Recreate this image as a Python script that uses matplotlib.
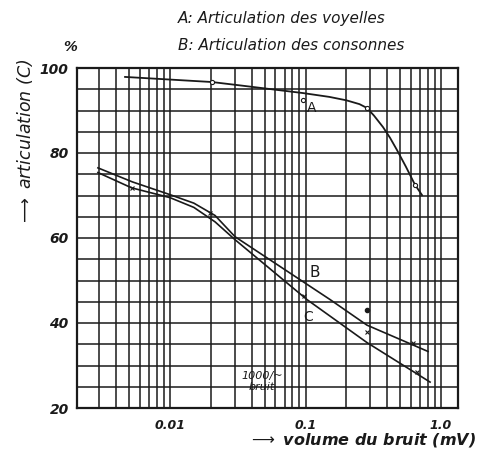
import numpy as np
import matplotlib.pyplot as plt
from matplotlib.ticker import FixedLocator, LogLocator, NullFormatter

#-------------------------------------------------------------------------------
#DATA

# curve A : articulation des voyelles
a_x = [0.00466, 0.0204, 0.033, 0.0959, 0.15, 0.20, 0.25, 0.284, 0.32, 0.373, 0.42, 0.473, 0.55, 0.643, 0.724]
a_y = [97.9, 96.7, 95.9, 94.1, 93.2, 92.4, 91.5, 90.6, 88.8, 86.1, 83.6, 80.7, 76.8, 72.5, 70.1]
a_mx = [0.0204, 0.0959, 0.284, 0.643]
a_my = [96.7, 92.5, 90.6, 72.5]

# curve B : articulation des consonnes
b_x = [0.00294, 0.00528, 0.01, 0.015, 0.0215, 0.0302, 0.152, 0.284, 0.802]
b_y = [76.5, 73.2, 70.2, 68.2, 65.3, 60.3, 45.5, 39.5, 33.3]

# curve C
c_x = [0.00294, 0.00521, 0.01, 0.015, 0.0215, 0.0302, 0.1026, 0.284, 0.83]
c_y = [75.4, 71.8, 69.5, 67.2, 63.8, 59.6, 45.5, 35.4, 26.1]

# measured points (x marks and dot)
p_x = [0.00521, 0.0197, 0.098, 0.284, 0.62, 0.66]
p_y = [71.8, 66.0, 46.3, 37.8, 35.4, 28.4]
dot_x = [0.284]
dot_y = [43.0]

xticks = [0.01, 0.1, 1.0]
xticklabels = ['0.01', '0.1', '1.0']
yticks = [20, 40, 60, 80, 100]

#-------------------------------------------------------------------------------
#PLOT

plt.rcParams['font.family'] = 'DejaVu Sans'
ink = '#1a1a1a'

fig = plt.figure(figsize=(4.87, 4.62), dpi=100)
ax = fig.add_axes([77/487, 1 - 408/462, (458 - 77)/487, (408 - 68)/462])

ax.set_xscale('log')
ax.set_xlim(0.00206, 1.334)
ax.set_ylim(20, 100)

# hand drawn style log grid
ax.xaxis.set_major_locator(FixedLocator(xticks))
ax.xaxis.set_minor_locator(LogLocator(base=10, subs=np.arange(2, 10)))
ax.xaxis.set_minor_formatter(NullFormatter())
ax.yaxis.set_major_locator(FixedLocator(yticks))
ax.yaxis.set_minor_locator(FixedLocator(np.arange(20, 101, 5)))
ax.grid(True, which='both', color=ink, lw=1.1)
ax.set_axisbelow(True)
for s in ax.spines.values():
    s.set_linewidth(1.6)
    s.set_color(ink)

ax.set_xticklabels(xticklabels, fontsize=9, fontweight='bold', style='italic')
ax.set_yticklabels([str(v) for v in yticks], fontsize=10, fontweight='bold', style='italic')
ax.tick_params(which='both', length=0, colors=ink)
ax.tick_params(axis='x', pad=8)
ax.tick_params(axis='y', pad=6)

# curves
ax.plot(a_x, a_y, color=ink, lw=1.3)
ax.plot(a_mx, a_my, 'o', ms=3, mfc='white', mec=ink, mew=0.8)
ax.plot(b_x, b_y, color=ink, lw=1.2)
ax.plot(c_x, c_y, color=ink, lw=1.2)
ax.plot(p_x, p_y, 'x', ms=3, color=ink, mew=0.8)
ax.plot(dot_x, dot_y, 'o', ms=3, color=ink)

ax.text(0.1117, 90.6, 'A', fontsize=10, ha='center', va='center', color=ink)
ax.text(0.1175, 51.9, 'B', fontsize=11, ha='center', va='center', color=ink)
ax.text(0.1045, 41.5, 'C', fontsize=10, ha='center', va='center', color=ink)
ax.text(0.0478, 26.3, '1000/~\nbruit', fontsize=8, style='italic', ha='center',
        va='center', color=ink, linespacing=1.1)

# titles and axis labels
fig.text(178/487, 1 - 18/462, 'A: Articulation des voyelles', fontsize=11,
         style='italic', ha='left', va='center', color=ink)
fig.text(178/487, 1 - 45/462, 'B: Articulation des consonnes', fontsize=11,
         style='italic', ha='left', va='center', color=ink)
fig.text(70/487, 1 - 47/462, '%', fontsize=10, fontweight='bold', style='italic',
         ha='center', va='center', color=ink)
fig.text(25/487, 1 - 142/462, r'$\longrightarrow$ articulation (C)', fontsize=12.5,
         style='italic', rotation=90, ha='center', va='center', color=ink)
fig.text(362/487, 1 - 440/462, r'$\longrightarrow$ volume du bruit (mV)', fontsize=11.5,
         fontweight='bold', style='italic', ha='center', va='center', color=ink)

fig.savefig('out.png', dpi=100)
